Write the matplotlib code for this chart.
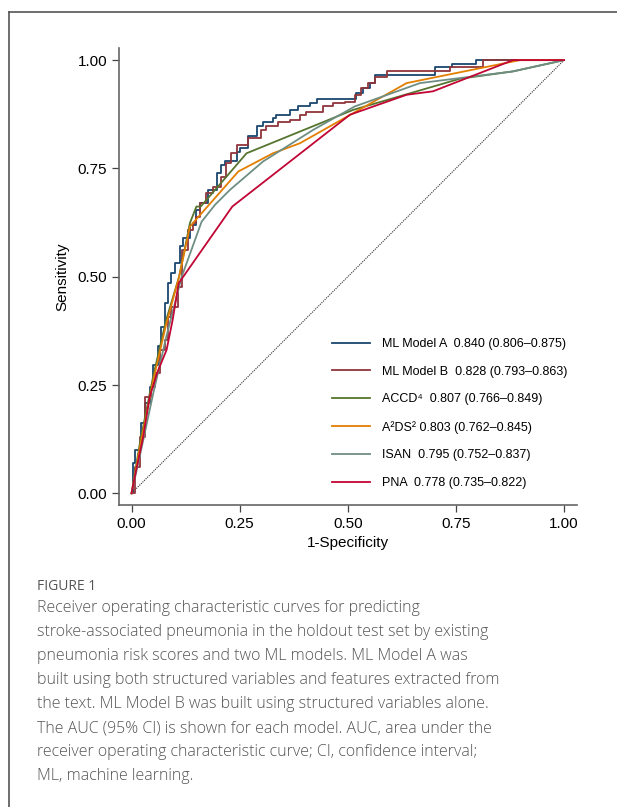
import matplotlib.pyplot as plt
from matplotlib.lines import Line2D

# ROC points (1-specificity, sensitivity)
a_fpr = [0, 0.004, 0.008, 0.015, 0.023, 0.031, 0.042, 0.050, 0.062, 0.069, 0.077, 0.085, 0.092, 0.100, 0.112,
         0.120, 0.135, 0.150, 0.158, 0.177, 0.197, 0.208, 0.216, 0.226, 0.243, 0.250, 0.270, 0.289, 0.304,
         0.327, 0.335, 0.366, 0.385, 0.412, 0.428, 0.516, 0.520, 0.536, 0.551, 0.563, 0.667, 0.701, 0.740,
         0.797, 1.0]
a_tpr = [0, 0.069, 0.100, 0.100, 0.162, 0.208, 0.246, 0.296, 0.339, 0.385, 0.439, 0.485, 0.508, 0.531, 0.570,
         0.590, 0.620, 0.654, 0.670, 0.700, 0.739, 0.758, 0.767, 0.767, 0.789, 0.796, 0.824, 0.847, 0.858,
         0.866, 0.874, 0.885, 0.893, 0.902, 0.910, 0.910, 0.924, 0.935, 0.947, 0.966, 0.966, 0.985, 0.991,
         1.0, 1.0]

b_fpr = [0, 0.008, 0.019, 0.031, 0.046, 0.054, 0.066, 0.077, 0.085, 0.092, 0.108, 0.116, 0.131, 0.143, 0.150,
         0.158, 0.173, 0.189, 0.208, 0.219, 0.231, 0.243, 0.270, 0.300, 0.312, 0.339, 0.366, 0.389, 0.404,
         0.443, 0.466, 0.493, 0.516, 0.531, 0.547, 0.563, 0.590, 0.736, 0.813, 1.0]
b_tpr = [0, 0.060, 0.131, 0.223, 0.246, 0.277, 0.331, 0.354, 0.408, 0.430, 0.477, 0.562, 0.608, 0.624, 0.639,
         0.670, 0.693, 0.708, 0.731, 0.762, 0.785, 0.804, 0.820, 0.839, 0.847, 0.858, 0.862, 0.874, 0.881,
         0.893, 0.902, 0.904, 0.920, 0.935, 0.947, 0.962, 0.974, 0.985, 1.0, 1.0]

accd_fpr = [0, 0.02, 0.05, 0.08, 0.11, 0.135, 0.150, 0.160, 0.266, 0.389, 0.512, 0.759, 0.882, 1.0]
accd_tpr = [0, 0.12, 0.27, 0.40, 0.50, 0.624, 0.662, 0.662, 0.785, 0.835, 0.885, 0.957, 0.974, 1.0]

a2ds2_fpr = [0, 0.02, 0.05, 0.08, 0.11, 0.135, 0.247, 0.327, 0.389, 0.636, 0.898, 1.0]
a2ds2_tpr = [0, 0.11, 0.26, 0.39, 0.50, 0.616, 0.743, 0.785, 0.808, 0.947, 1.0, 1.0]

isan_fpr = [0, 0.02, 0.05, 0.08, 0.116, 0.162, 0.193, 0.227, 0.304, 0.420, 0.516, 0.667, 0.882, 1.0]
isan_tpr = [0, 0.09, 0.23, 0.36, 0.500, 0.627, 0.666, 0.700, 0.766, 0.839, 0.893, 0.947, 0.974, 1.0]

pna_fpr = [0, 0.010, 0.027, 0.042, 0.060, 0.081, 0.095, 0.109, 0.233, 0.505, 0.636, 0.697, 0.882, 1.0]
pna_tpr = [0, 0.050, 0.131, 0.223, 0.280, 0.331, 0.400, 0.485, 0.662, 0.874, 0.920, 0.928, 1.0, 1.0]

labels = ["ML Model A  0.840 (0.806\u20130.875)",
          "ML Model B  0.828 (0.793\u20130.863)",
          "ACCD\u2074  0.807 (0.766\u20130.849)",
          "A\u00b2DS\u00b2 0.803 (0.762\u20130.845)",
          "ISAN  0.795 (0.752\u20130.837)",
          "PNA  0.778 (0.735\u20130.822)"]
colors = ["#1a476f", "#90353b", "#55752f", "#e37e00", "#6e8e84", "#c10534"]

caption = ("Receiver operating characteristic curves for predicting\n"
           "stroke-associated pneumonia in the holdout test set by existing\n"
           "pneumonia risk scores and two ML models. ML Model A was\n"
           "built using both structured variables and features extracted from\n"
           "the text. ML Model B was built using structured variables alone.\n"
           "The AUC (95% CI) is shown for each model. AUC, area under the\n"
           "receiver operating characteristic curve; CI, confidence interval;\n"
           "ML, machine learning.")

plt.rcParams['font.family'] = ['Liberation Sans', 'DejaVu Sans']

fig = plt.figure(figsize=(6.17, 8.07), dpi=100)
ax = fig.add_axes([119/617, 1 - 505/807, 458/617, 457/807])

ax.plot([0, 1], [0, 1], color='#333333', lw=0.8, linestyle=(0, (1, 1)))
curves = [(a_fpr, a_tpr, True), (b_fpr, b_tpr, True), (accd_fpr, accd_tpr, False),
          (a2ds2_fpr, a2ds2_tpr, False), (isan_fpr, isan_tpr, False), (pna_fpr, pna_tpr, False)]
for (xs, ys, step), c, lab in zip(curves, colors, labels):
    ax.plot(xs, ys, color=c, lw=1.3, label=lab, drawstyle='steps-post' if step else 'default')

ax.set_xlim(-0.029, 1.03)
ax.set_ylim(-0.027, 1.028)
ticks = [0, 0.25, 0.5, 0.75, 1.0]
ax.set_xticks(ticks)
ax.set_yticks(ticks)
ax.set_xticklabels(['0.00', '0.25', '0.50', '0.75', '1.00'])
ax.set_yticklabels(['0.00', '0.25', '0.50', '0.75', '1.00'])
ax.tick_params(labelsize=11, length=5, width=0.9, color='#444444', pad=3.5)
for s in ['top', 'right']:
    ax.spines[s].set_visible(False)
for s in ['left', 'bottom']:
    ax.spines[s].set_color('#666666')
    ax.spines[s].set_linewidth(1.2)

fig.text(62/617, 1 - 277/807, 'Sensitivity', rotation=90, ha='center', va='center', fontsize=11)
fig.text(348/617, 1 - 543/807, '1-Specificity', ha='center', va='center', fontsize=11)

fig.legend(loc='upper left', bbox_to_anchor=(332/617, 1 - 338/807), frameon=False, fontsize=9,
           handlelength=3.0, handletextpad=1.0, labelspacing=1.25, borderpad=0, borderaxespad=0)

# frame around the figure panel
fig.add_artist(Line2D([9/617, 1.0], [1 - 12/807, 1 - 12/807], color='#555555', lw=1.2))
fig.add_artist(Line2D([9/617, 9/617], [1 - 12/807, 0], color='#555555', lw=1.2))

fig.text(37/617, 1 - 587/807, 'FIGURE 1', ha='left', va='center', fontsize=10,
         color='#555555', family='Open Sans')
fig.text(37/617, 1 - 600/807, caption, ha='left', va='top', fontsize=11.5,
         color='#555555', family='Open Sans', weight='light', linespacing=1.67)

plt.savefig('out.png', dpi=100)
